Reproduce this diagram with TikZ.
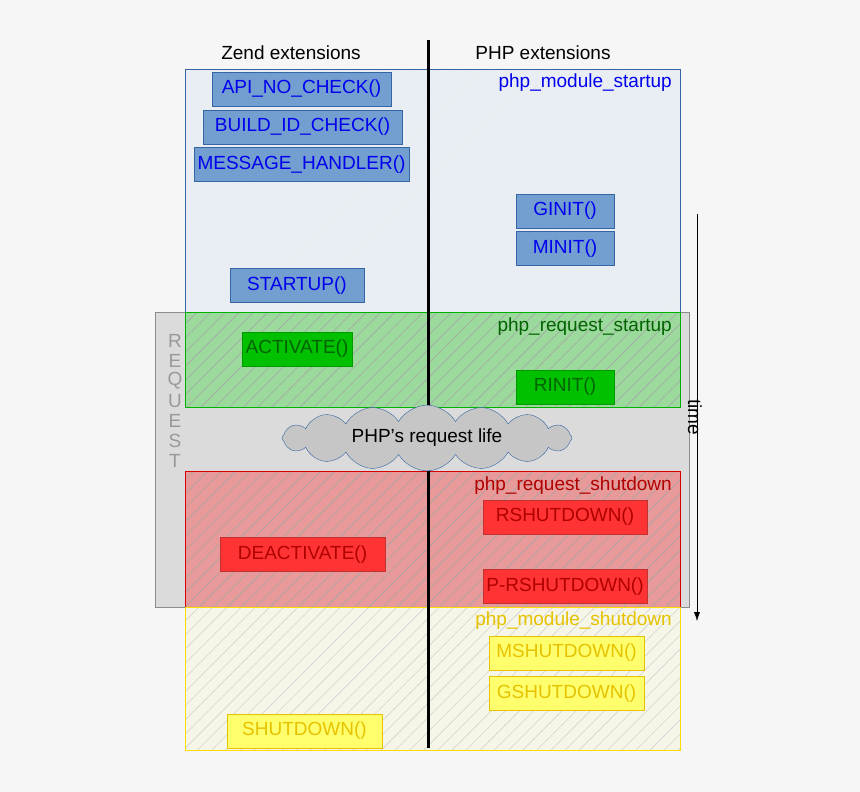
\documentclass[tikz,border=0pt]{standalone}
\usepackage{fontspec}
\setmainfont{Liberation Sans}
\usetikzlibrary{patterns.meta,shapes.symbols,arrows.meta}
\definecolor{bg}{HTML}{F6F6F6}
\definecolor{bluefill}{HTML}{729FCF}
\definecolor{bluetxt}{HTML}{0000EE}
\definecolor{blueedge}{HTML}{3465A4}
\definecolor{greenfill}{HTML}{00C000}
\definecolor{greentxt}{HTML}{006400}
\definecolor{redfill}{HTML}{FF3333}
\definecolor{redtxt}{HTML}{B00000}
\definecolor{yelfill}{HTML}{FFFF6D}
\definecolor{yeltxt}{HTML}{E6C200}
\definecolor{msfill}{HTML}{E9EEF4}
\definecolor{rsfill}{HTML}{9CD99C}
\definecolor{rshfill}{HTML}{E89A9A}
\definecolor{mshfill}{HTML}{F6F6E8}
\begin{document}
\begin{tikzpicture}[x=1pt,y=-1pt,
  every node/.style={font=\fontsize{19}{22}\selectfont, inner sep=0pt},
  bx/.style={draw, minimum width=#1, minimum height=34pt},
  bluebx/.style={bx=#1, fill=bluefill, draw=blueedge, text=bluetxt},
  greenbx/.style={bx=#1, fill=greenfill, draw=greenfill!80!black, text=greentxt},
  redbx/.style={bx=#1, fill=redfill, draw=redtxt!80, text=redtxt},
  yelbx/.style={bx=#1, fill=yelfill, draw=yeltxt, text=yeltxt},
  hatch/.style={pattern={Lines[angle=45,distance=10pt,line width=0.6pt]}, pattern color=#1},
  hatch/.default=gray!70]
\fill[bg] (0,0) rectangle (860,792);
\useasboundingbox (0,0) rectangle (860,792);
% request band
\draw[gray!90, fill=gray!28] (155,312) rectangle (689,607);
% module startup
\fill[msfill] (185,69) rectangle (680,312);
\fill[hatch=gray!15] (185,69) rectangle (680,312);
\draw[blueedge] (185,69) rectangle (680,312);
% request startup
\fill[rsfill] (185,312) rectangle (680,407);
\fill[hatch] (185,312) rectangle (680,407);
\draw[green!70!black] (185,312) rectangle (680,407);
% request shutdown
\fill[rshfill] (185,471) rectangle (680,607);
\fill[hatch] (185,471) rectangle (680,607);
\draw[red!85!black] (185,471) rectangle (680,607);
% module shutdown
\fill[mshfill] (185,607) rectangle (680,750);
\fill[hatch=gray!35] (185,607) rectangle (680,750);
\draw[yellow!80!orange] (185,607) rectangle (680,750);
% headers
\node (zend) at (291,53) {Zend extensions};
\node (phpx) at (543,53) {PHP extensions};
\node[text=bluetxt, anchor=east] (lms) at (672,83) {php\_module\_startup};
\node[text=greentxt, anchor=east] (lrs) at (672,327) {php\_request\_startup};
\node[text=redtxt, anchor=east] (lrsh) at (672,486) {php\_request\_shutdown};
\node[text=yeltxt, anchor=east] (lmsh) at (672,621) {php\_module\_shutdown};
% REQUEST letters
\foreach \l [count=\i] in {R,E,Q,U,E,S,T}
  \node[text=gray!80] (req\i) at (175,321+\i*20) {\l};
% vertical divider
\coordinate (dtop) at (428.5,40);
\coordinate (dbot) at (428.5,748);
\draw[line width=3pt] (dtop) -- (dbot);
% cloud
\node[cloud, cloud puffs=16, cloud puff arc=120, aspect=5, draw=blueedge, fill=gray!45, minimum width=290pt, minimum height=50pt] (cloud) at (427,438) {PHP's request life};
% boxes
\node[bluebx=179pt] (api) at (301.5,89) {API\_NO\_CHECK()};
\node[bluebx=199pt] (bid) at (302.5,127) {BUILD\_ID\_CHECK()};
\node[bluebx=215pt] (msg) at (301.5,164.5) {MESSAGE\_HANDLER()};
\node[bluebx=98pt] (ginit) at (565,211) {GINIT()};
\node[bluebx=98pt] (minit) at (565,248.5) {MINIT()};
\node[bluebx=134pt] (startup) at (297,285.5) {STARTUP()};
\node[greenbx=110pt] (act) at (297,349) {ACTIVATE()};
\node[greenbx=98pt] (rinit) at (565,387) {RINIT()};
\node[redbx=164pt] (rsh) at (565,517) {RSHUTDOWN()};
\node[redbx=165pt] (deact) at (302.5,554.5) {DEACTIVATE()};
\node[redbx=164pt] (prsh) at (565,586.5) {P-RSHUTDOWN()};
\node[yelbx=155pt] (msh) at (566.5,653) {MSHUTDOWN()};
\node[yelbx=155pt] (gsh) at (566.5,693.5) {GSHUTDOWN()};
\node[yelbx=155pt] (sh) at (304.5,731) {SHUTDOWN()};
% time arrow
\coordinate (ttop) at (697,214);
\coordinate (tbot) at (697,621);
\draw[-{Latex[length=9pt,width=6pt]}] (ttop) -- (tbot);
\node[rotate=-90] (time) at (695,417) {time};
\end{tikzpicture}
\end{document}
